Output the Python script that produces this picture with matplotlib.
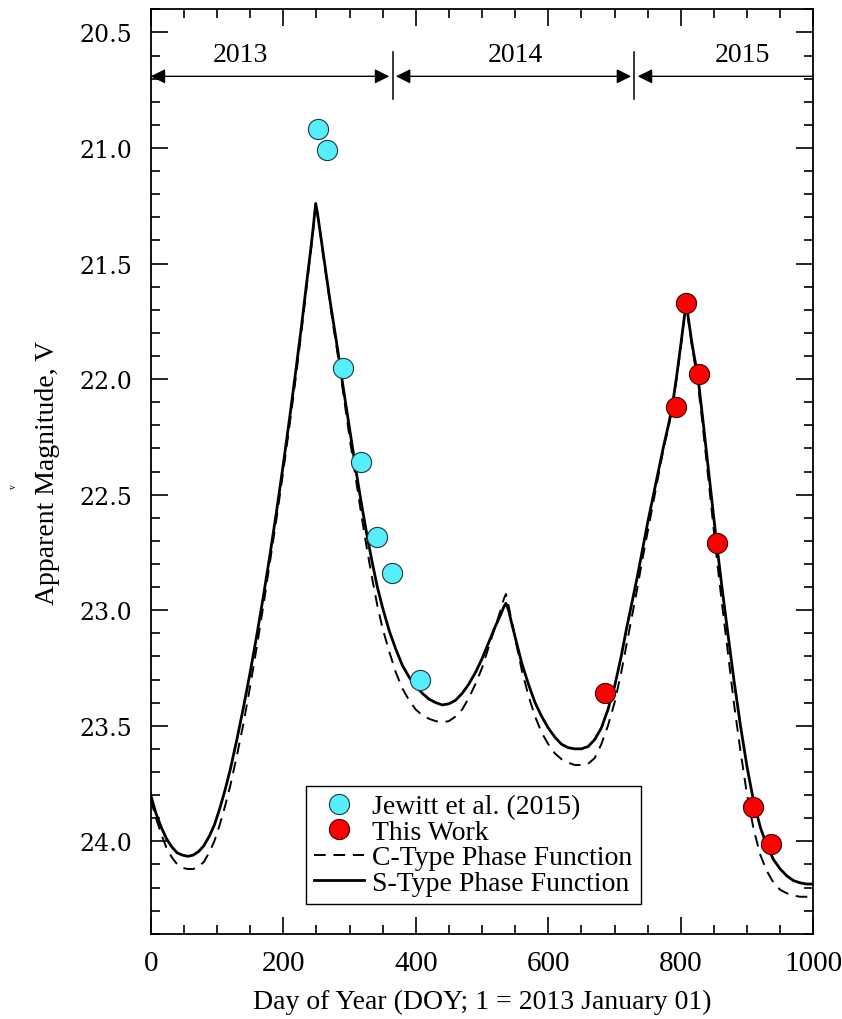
import matplotlib
matplotlib.use("Agg")
import matplotlib.pyplot as plt
from matplotlib.ticker import MultipleLocator, FormatStrFormatter

# ---------------- data ----------------
jewitt_doy = [252, 266, 290, 318, 342, 364, 406]
jewitt_mag = [20.92, 21.01, 21.95, 22.36, 22.685, 22.84, 23.30]

thiswork_doy = [686, 792, 808, 827, 854, 909, 936]
thiswork_mag = [23.36, 22.12, 21.67, 21.98, 22.71, 23.85, 24.01]

# S-type phase function model (solid)
s_doy = [0, 8, 16, 24, 32, 40, 48, 56, 64, 72, 80, 88, 96, 104, 112, 120,
         130, 140, 150, 160, 170, 180, 190, 200, 210, 220, 228, 235, 241,
         245, 249, 252, 256, 260, 265, 270, 276, 282, 288, 295, 302, 310,
         318, 326, 334, 342, 350, 360, 370, 380, 390, 400, 410, 420, 430,
         440, 450, 460, 470, 480, 490, 500, 510, 520, 528, 533, 536, 540,
         545, 552, 560, 570, 580, 590, 600, 610, 620, 630, 640, 650, 660,
         670, 680, 690, 700, 710, 718, 726, 734, 742, 750, 758, 766, 774,
         782, 788, 794, 800, 804, 808, 812, 817, 822, 827, 833, 840, 847,
         854, 862, 870, 880, 890, 900, 910, 920, 930, 940, 950, 960, 970,
         980, 990, 1000]
s_mag = [23.80, 23.88, 23.94, 23.99, 24.025, 24.05, 24.06, 24.065, 24.06,
         24.045, 24.02, 23.98, 23.93, 23.86, 23.78, 23.69, 23.56, 23.42,
         23.27, 23.11, 22.94, 22.76, 22.57, 22.37, 22.16, 21.94, 21.76,
         21.59, 21.45, 21.35, 21.24, 21.29, 21.37, 21.45, 21.55, 21.65,
         21.76, 21.87, 21.99, 22.12, 22.25, 22.40, 22.54, 22.67, 22.79,
         22.90, 22.99, 23.09, 23.17, 23.24, 23.29, 23.33, 23.36, 23.385,
         23.40, 23.41, 23.405, 23.39, 23.36, 23.32, 23.27, 23.21, 23.14,
         23.07, 23.02, 22.985, 22.97, 23.00, 23.06, 23.14, 23.23, 23.32,
         23.40, 23.46, 23.51, 23.55, 23.58, 23.595, 23.60, 23.60, 23.59,
         23.56, 23.51, 23.43, 23.33, 23.20, 23.08, 22.97, 22.86, 22.74,
         22.62, 22.51, 22.40, 22.29, 22.19, 22.10, 21.98, 21.85, 21.76,
         21.67, 21.75, 21.85, 21.93, 22.02, 22.17, 22.35, 22.53, 22.71,
         22.90, 23.08, 23.30, 23.50, 23.68, 23.83, 23.94, 24.02, 24.08,
         24.12, 24.15, 24.17, 24.18, 24.185, 24.185]

# C-type phase function model (dashed)
c_doy = s_doy
c_mag = [23.82, 23.90, 23.97, 24.03, 24.07, 24.10, 24.115, 24.12, 24.12,
         24.11, 24.09, 24.05, 24.00, 23.93, 23.85, 23.76, 23.63, 23.49,
         23.33, 23.16, 22.98, 22.79, 22.60, 22.40, 22.19, 21.97, 21.78,
         21.61, 21.46, 21.36, 21.24, 21.29, 21.37, 21.46, 21.56, 21.66,
         21.78, 21.89, 22.01, 22.15, 22.29, 22.44, 22.59, 22.73, 22.86,
         22.98, 23.08, 23.18, 23.27, 23.34, 23.39, 23.43, 23.455, 23.47,
         23.48, 23.485, 23.48, 23.46, 23.43, 23.38, 23.32, 23.25, 23.16,
         23.07, 23.00, 22.95, 22.93, 22.98, 23.05, 23.15, 23.26, 23.37,
         23.46, 23.53, 23.58, 23.62, 23.645, 23.66, 23.67, 23.67, 23.665,
         23.64, 23.58, 23.50, 23.40, 23.27, 23.15, 23.03, 22.91, 22.78,
         22.66, 22.54, 22.42, 22.30, 22.20, 22.11, 21.99, 21.86, 21.76,
         21.67, 21.76, 21.86, 21.95, 22.05, 22.20, 22.39, 22.58, 22.77,
         22.97, 23.16, 23.40, 23.61, 23.80, 23.95, 24.06, 24.13, 24.18,
         24.21, 24.225, 24.235, 24.24, 24.24, 24.24]

years = ["2013", "2014", "2015"]
year_label_doy = [136, 551, 893]
year_bounds = [0, 365, 730, 1000]

# ---------------- figure ----------------
plt.rcParams["font.family"] = ["Liberation Serif", "DejaVu Serif"]

fig = plt.figure(figsize=(8.42, 10.2), dpi=100)
ax = fig.add_axes([0.179, 0.0836, 0.787, 0.9063])

ax.plot(c_doy, c_mag, color="black", lw=1.4, ls=(0, (6, 4)),
        label="C-Type Phase Function", zorder=2)
ax.plot(s_doy, s_mag, color="black", lw=2.0, ls="-",
        label="S-Type Phase Function", zorder=3)
ax.plot(jewitt_doy, jewitt_mag, ls="none", marker="o", ms=14.5,
        mfc="#55EEFA", mec="#1a3a40", mew=0.8,
        label="Jewitt et al. (2015)", zorder=4)
ax.plot(thiswork_doy, thiswork_mag, ls="none", marker="o", ms=14.5,
        mfc="#FF0000", mec="#3a0000", mew=0.8,
        label="This Work", zorder=4)

ax.set_xlim(0, 1000)
ax.set_ylim(24.4, 20.4)

ax.xaxis.set_major_locator(MultipleLocator(200))
ax.xaxis.set_minor_locator(MultipleLocator(50))
ax.yaxis.set_major_locator(MultipleLocator(0.5))
ax.yaxis.set_minor_locator(MultipleLocator(0.1))
ax.yaxis.set_major_formatter(FormatStrFormatter("%.1f"))

ax.tick_params(which="both", direction="in", top=True, right=True,
               width=1.2, colors="black")
ax.tick_params(which="major", length=12.5)
ax.tick_params(which="minor", length=6.5)
ax.tick_params(axis="x", which="major", labelsize=21, pad=12)
ax.tick_params(axis="y", which="major", labelsize=17, pad=13)
for lab in ax.get_yticklabels():
    lab.set_family("DejaVu Serif")
for sp in ax.spines.values():
    sp.set_linewidth(1.3)

ax.set_xlabel("Day of Year (DOY; 1 = 2013 January 01)", fontsize=20,
              labelpad=9)
ax.set_ylabel("Apparent Magnitude, V", fontsize=20, labelpad=14)
fig.text(13 / 842, 1 - 487 / 1020, "v", fontsize=7, rotation=90,
         ha="center", va="center")

# year annotations
arrow_y = 20.69
for i, yr in enumerate(years):
    x0 = year_bounds[i] + (0 if i == 0 else 5)
    x1 = year_bounds[i + 1] - (0 if i == len(years) - 1 else 5)
    style = "<|-|>" if i < len(years) - 1 else "-|>"
    ax.annotate("", xy=(x0, arrow_y), xytext=(x1, arrow_y),
                arrowprops=dict(arrowstyle=style, color="black", lw=1.0,
                                mutation_scale=22, shrinkA=0, shrinkB=0),
                annotation_clip=False)
    ax.text(year_label_doy[i], 20.595, yr, fontsize=20, ha="center",
            va="center")
for b in year_bounds[1:-1]:
    ax.plot([b, b], [20.585, 20.79], color="black", lw=1.1)

leg = ax.legend(handles=[ax.lines[2], ax.lines[3], ax.lines[0], ax.lines[1]],
                loc="lower left", bbox_to_anchor=(0.234, 0.032),
                fontsize=20, frameon=True, fancybox=False, edgecolor="black",
                framealpha=1, borderpad=0.3, labelspacing=0.0,
                handlelength=1.8, handletextpad=0.3, borderaxespad=0)
leg.get_frame().set_linewidth(1.0)

fig.savefig("out.png", dpi=100)
